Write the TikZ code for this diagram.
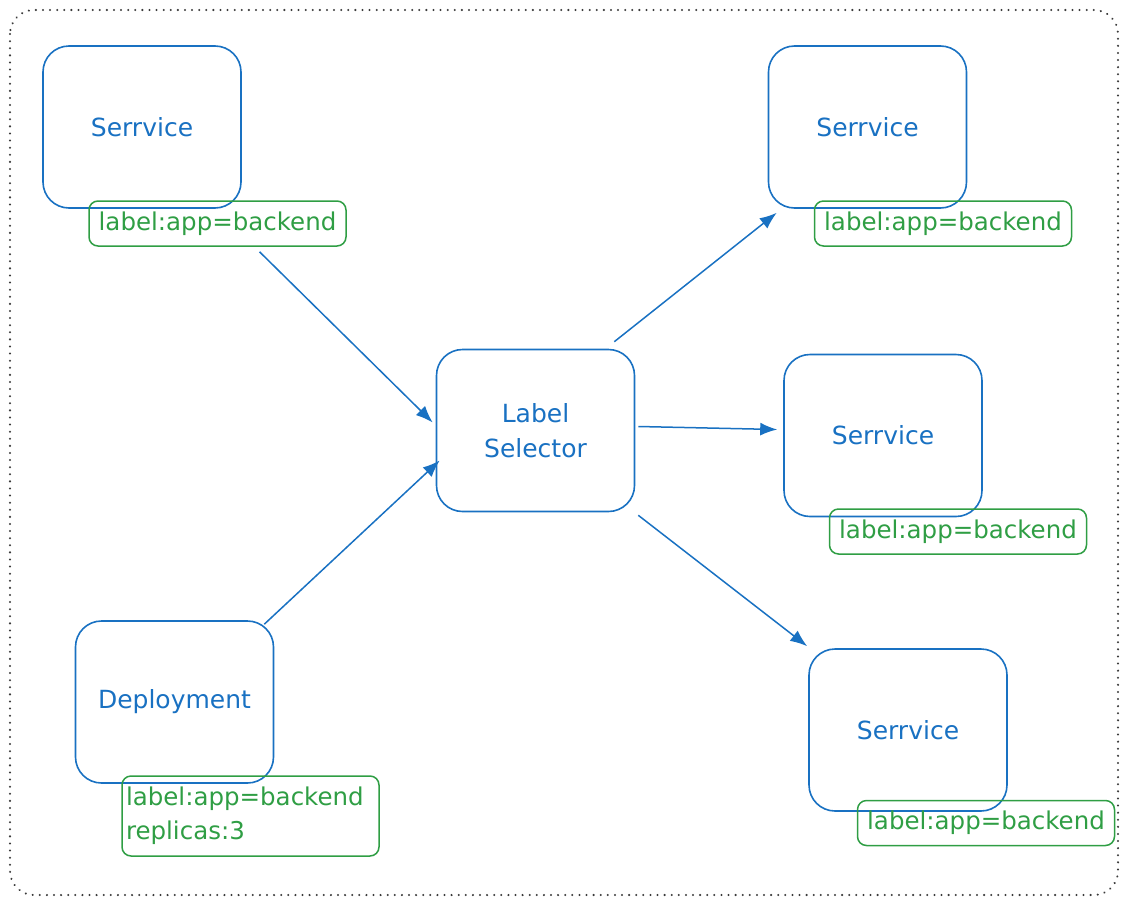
\documentclass[tikz,border=0pt]{standalone}
\usepackage{fontspec}
\setmainfont{DejaVu Sans}
\usetikzlibrary{arrows.meta}
\definecolor{exblue}{HTML}{1971C2}
\definecolor{exgreen}{HTML}{2F9E44}
\definecolor{exframe}{HTML}{3A3A3A}
\begin{document}
\begin{tikzpicture}[x=1pt, y=-1pt,
    srvbox/.style={draw=exblue, line width=1.6pt, rounded corners=26pt,
      minimum width=198pt, minimum height=162pt, text=exblue,
      align=center, font=\fontsize{25}{35}\selectfont},
    tagbox/.style={draw=exgreen, line width=1.5pt, rounded corners=9pt,
      minimum width=257pt, minimum height=45pt, text=exgreen,
      font=\fontsize{24.5}{34}\selectfont},
    link/.style={draw=exblue, line width=1.5pt,
      -{Latex[length=17pt,width=13pt]}}]
    \useasboundingbox (0,0) rectangle (1127,905);

    % Outer frame
    \draw[exframe, line width=2.2pt, line cap=round,
      dash pattern=on 0.1pt off 7pt, rounded corners=24pt]
      (10,10) rectangle (1118,895);

    % Left side
    \node[srvbox] (srvA) at (142,127) {Serrvice};
    \node[tagbox] (tagA) at (217.5,223.5) {label:app=backend};
    \node[srvbox] (deploy) at (174.5,702) {Deployment};
    \node[tagbox, minimum height=80pt, text width=249pt, inner sep=4pt,
      align=left] (tagD) at (250.5,816) {label:app=backend\\replicas:3};

    % Selector in the middle
    \node[srvbox] (sel) at (535.5,430.5) {Label\\Selector};

    % Right side
    \node[srvbox] (srvB) at (867.5,127) {Serrvice};
    \node[tagbox] (tagB) at (943,223.5) {label:app=backend};
    \node[srvbox] (srvC) at (883,435.5) {Serrvice};
    \node[tagbox] (tagC) at (958,531.5) {label:app=backend};
    \node[srvbox] (srvD) at (908,730) {Serrvice};
    \node[tagbox] (tagE) at (986,823) {label:app=backend};

    % Arrows into the selector
    \draw[link] ([xshift=42pt,yshift=-5pt]tagA.south)
      -- ([xshift=-3pt,yshift=8pt]sel.west);
    \draw[link] ([xshift=-10pt,yshift=-4pt]deploy.north east)
      -- ([xshift=4pt,yshift=-30pt]sel.west);

    % Arrows out of the selector
    \draw[link] ([xshift=-21pt,yshift=7pt]sel.north east)
      -- ([xshift=9pt,yshift=-4pt]srvB.south west);
    \draw[link] ([xshift=3pt,yshift=4pt]sel.east)
      -- ([xshift=-6pt,yshift=6pt]srvC.west);
    \draw[link] ([xshift=3pt,yshift=-3pt]sel.south east)
      -- ([xshift=-1pt,yshift=2pt]srvD.north west);
  \end{tikzpicture}
\end{document}
